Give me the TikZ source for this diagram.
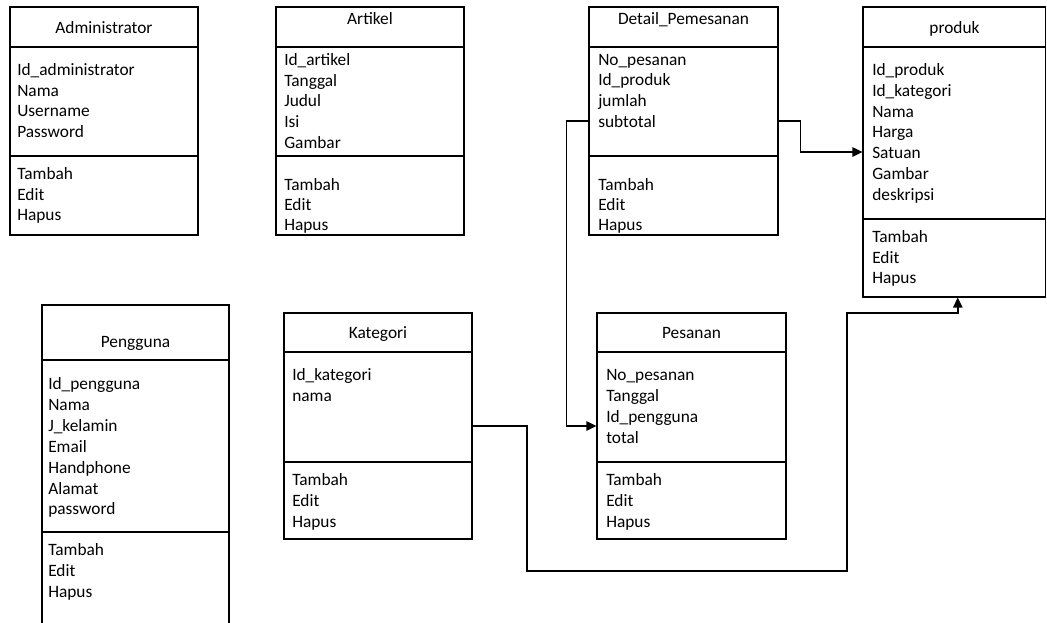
\documentclass[tikz,border=0pt]{standalone}
\usepackage{fontspec}
\setmainfont{Carlito}
\usetikzlibrary{fit,arrows.meta}
\tikzset{
  ent/.style={draw, line width=0.8pt, inner sep=0pt, fit={#1}},
  txt/.style={anchor=base west, inner sep=0pt, font=\fontsize{13}{15}\selectfont},
  ttl/.style={anchor=base, inner sep=0pt, font=\fontsize{13}{15}\selectfont},
  divl/.style={line width=0.8pt},
  conn/.style={line width=1.1pt, -{Triangle[length=7.5pt,width=7pt]}}
}
\newcommand\entlines[5]{%
  \foreach \t [count=\i] in {#5} {\node[txt] (#1-\i) at (#2, {#3+5.5+(\i-1)*#4}) {\t};}}
\newcommand\entdiv[2]{\draw[divl] (#1.west |- 0,#2) -- (#1.east |- 0,#2);}
\begin{document}
\begin{tikzpicture}[x=0.75pt,y=-0.75pt]
\useasboundingbox (0,0) rectangle (1047,622);
\clip (0,0) rectangle (1047,622);

% Administrator
\node[ent={(10,7)(198,235)}] (adm) {};
\entdiv{adm}{47}\entdiv{adm}{156}
\node[ttl] (adm-t) at (104,33.5) {Administrator};
\entlines{adm-a}{17}{70}{20.7}{Id\_administrator,Nama,Username,Password}
\entlines{adm-m}{17}{174}{20.7}{Tambah,Edit,Hapus}

% Artikel
\node[ent={(276,7)(464,235)}] (art) {};
\entdiv{art}{47}\entdiv{art}{156}
\node[ttl] (art-t) at (370,24) {Artikel};
\entlines{art-a}{284}{60}{20.7}{Id\_artikel,Tanggal,Judul,Isi,Gambar}
\entlines{art-m}{284}{185}{20.2}{Tambah,Edit,Hapus}

% Detail_Pemesanan
\node[ent={(589,7)(778,235)}] (det) {};
\entdiv{det}{47}\entdiv{det}{156}
\node[ttl] (det-t) at (683.5,24) {Detail\_Pemesanan};
\entlines{det-a}{598}{59.5}{20.7}{No\_pesanan,Id\_produk,jumlah,subtotal}
\entlines{det-m}{598}{185}{20.2}{Tambah,Edit,Hapus}

% produk
\node[ent={(863,7)(1045.6,297)}] (prod) {};
\entdiv{prod}{47}\entdiv{prod}{219}
\node[ttl] (prod-t) at (954.5,33.5) {produk};
\entlines{prod-a}{872}{70}{20.8}{Id\_produk,Id\_kategori,Nama,Harga,Satuan,Gambar,deskripsi}
\entlines{prod-m}{872}{237}{20.5}{Tambah,Edit,Hapus}

% Pengguna
\node[ent={(42,305)(229,640)}] (pgn) {};
\entdiv{pgn}{360}\entdiv{pgn}{532}
\node[ttl] (pgn-t) at (135.5,347.5) {Pengguna};
\entlines{pgn-a}{48}{384}{20.9}{Id\_pengguna,Nama,J\_kelamin,Email,Handphone,Alamat,password}
\entlines{pgn-m}{48}{550}{20.9}{Tambah,Edit,Hapus}

% Kategori
\node[ent={(284,313)(472,539)}] (kat) {};
\entdiv{kat}{352}\entdiv{kat}{462}
\node[ttl] (kat-t) at (378,338.5) {Kategori};
\entlines{kat-a}{292}{375.3}{21}{Id\_kategori,nama}
\entlines{kat-m}{292}{480}{20.9}{Tambah,Edit,Hapus}

% Pesanan
\node[ent={(597,313)(786,539)}] (pes) {};
\entdiv{pes}{352}\entdiv{pes}{462}
\node[ttl] (pes-t) at (691.5,338.5) {Pesanan};
\entlines{pes-a}{606}{375}{20.9}{No\_pesanan,Tanggal,Id\_pengguna,total}
\entlines{pes-m}{606}{480}{20.9}{Tambah,Edit,Hapus}

% connectors
\coordinate (k1) at (527,571);
\coordinate (k2) at (847,313);
\draw[conn] (det.west |- det-a-4) -- ++(-22,0) |- (pes.west);
\draw[conn] (det.east |- det-a-4) -- ++(22,0) |- (prod.west);
\draw[conn] (kat.east) -| (k1) -| (k2) -| ([xshift=2.6pt]prod.south);
\end{tikzpicture}
\end{document}
